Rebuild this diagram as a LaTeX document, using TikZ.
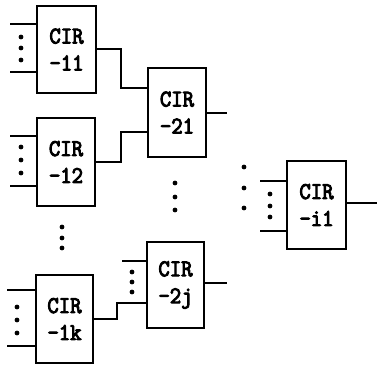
\documentclass[tikz,border=0pt]{standalone}
\usepackage{fontspec}
\newfontfamily\cirfont[FakeStretch=0.92, FakeBold=4]{Latin Modern Mono}
\begin{document}
\begin{tikzpicture}[x=1pt,y=-1pt,
  cir/.style={draw, line width=2pt, inner sep=0pt, outer sep=0pt,
    minimum width=58pt, minimum height=88pt, align=center,
    font=\cirfont\fontsize{24}{27}\selectfont},
  wire/.style={line width=2pt},
  dotm/.style={circle, fill=black, inner sep=0pt, minimum size=4.8pt}]
\useasboundingbox (0,0) rectangle (377,369);
% boxes
\node[cir, minimum width=59pt, minimum height=87pt] (b11) at (66.5,49.5) {CIR\\-11};
\node[cir] (b12) at (66,162) {CIR\\-12};
\node[cir, minimum width=57pt] (b1k) at (64.5,319) {CIR\\-1k};
\node[cir, minimum height=89pt] (b21) at (177,112.5) {CIR\\-21};
\node[cir, minimum width=57pt, minimum height=86pt] (b2j) at (175.5,285) {CIR\\-2j};
\node[cir, minimum width=59pt] (bi1) at (316.5,205) {CIR\\-i1};
% input stubs
\coordinate (i11a) at (10,24);  \coordinate (i11b) at (10,72);
\coordinate (i12a) at (10,136); \coordinate (i12b) at (10,186);
\coordinate (i1ka) at (7,290);  \coordinate (i1kb) at (7,346);
\coordinate (i2ja) at (122,261);
\coordinate (ii1a) at (260,181); \coordinate (ii1b) at (260,231);
\draw[wire] (i11a) -- (i11a -| b11.west);
\draw[wire] (i11b) -- (i11b -| b11.west);
\draw[wire] (i12a) -- (i12a -| b12.west);
\draw[wire] (i12b) -- (i12b -| b12.west);
\draw[wire] (i1ka) -- (i1ka -| b1k.west);
\draw[wire] (i1kb) -- (i1kb -| b1k.west);
\draw[wire] (i2ja) -- (i2ja -| b2j.west);
\draw[wire] (ii1a) -- (ii1a -| bi1.west);
\draw[wire] (ii1b) -- (ii1b -| bi1.west);
% connectors
\coordinate (j1) at (121,88);
\coordinate (j2) at (121,132);
\coordinate (j3) at (117,303);
\draw[wire] (b11.east) -| (j1) -- (j1 -| b21.west);
\draw[wire] (b12.east) -| (j2) -- (j2 -| b21.west);
\draw[wire] (b1k.east) -| (j3) -- (j3 -| b2j.west);
% outputs
\coordinate (o21) at (227,112.5);
\coordinate (o2j) at (227,283);
\coordinate (oi1) at (377,203);
\draw[wire] (b21.east) -- (o21);
\draw[wire] (b2j.east |- o2j) -- (o2j);
\draw[wire] (bi1.east |- oi1) -- (oi1);
% dots
\foreach \y [count=\k] in {37,48,60} \node[dotm] (d11\k) at (21,\y) {};
\foreach \y [count=\k] in {147,160,173} \node[dotm] (d12\k) at (21,\y) {};
\foreach \y [count=\k] in {307,320,333} \node[dotm] (d1k\k) at (17,\y) {};
\foreach \y [count=\k] in {227,238,248} \node[dotm] (dv1\k) at (62,\y) {};
\foreach \y [count=\k] in {183,197,210} \node[dotm] (dv2\k) at (175,\y) {};
\foreach \y [count=\k] in {272,282,292} \node[dotm] (d2j\k) at (132,\y) {};
\foreach \y [count=\k] in {194,206,217} \node[dotm] (di1\k) at (270,\y) {};
\foreach \y [count=\k] in {167,188,208} \node[dotm] (dv3\k) at (244,\y) {};
\end{tikzpicture}
\end{document}
